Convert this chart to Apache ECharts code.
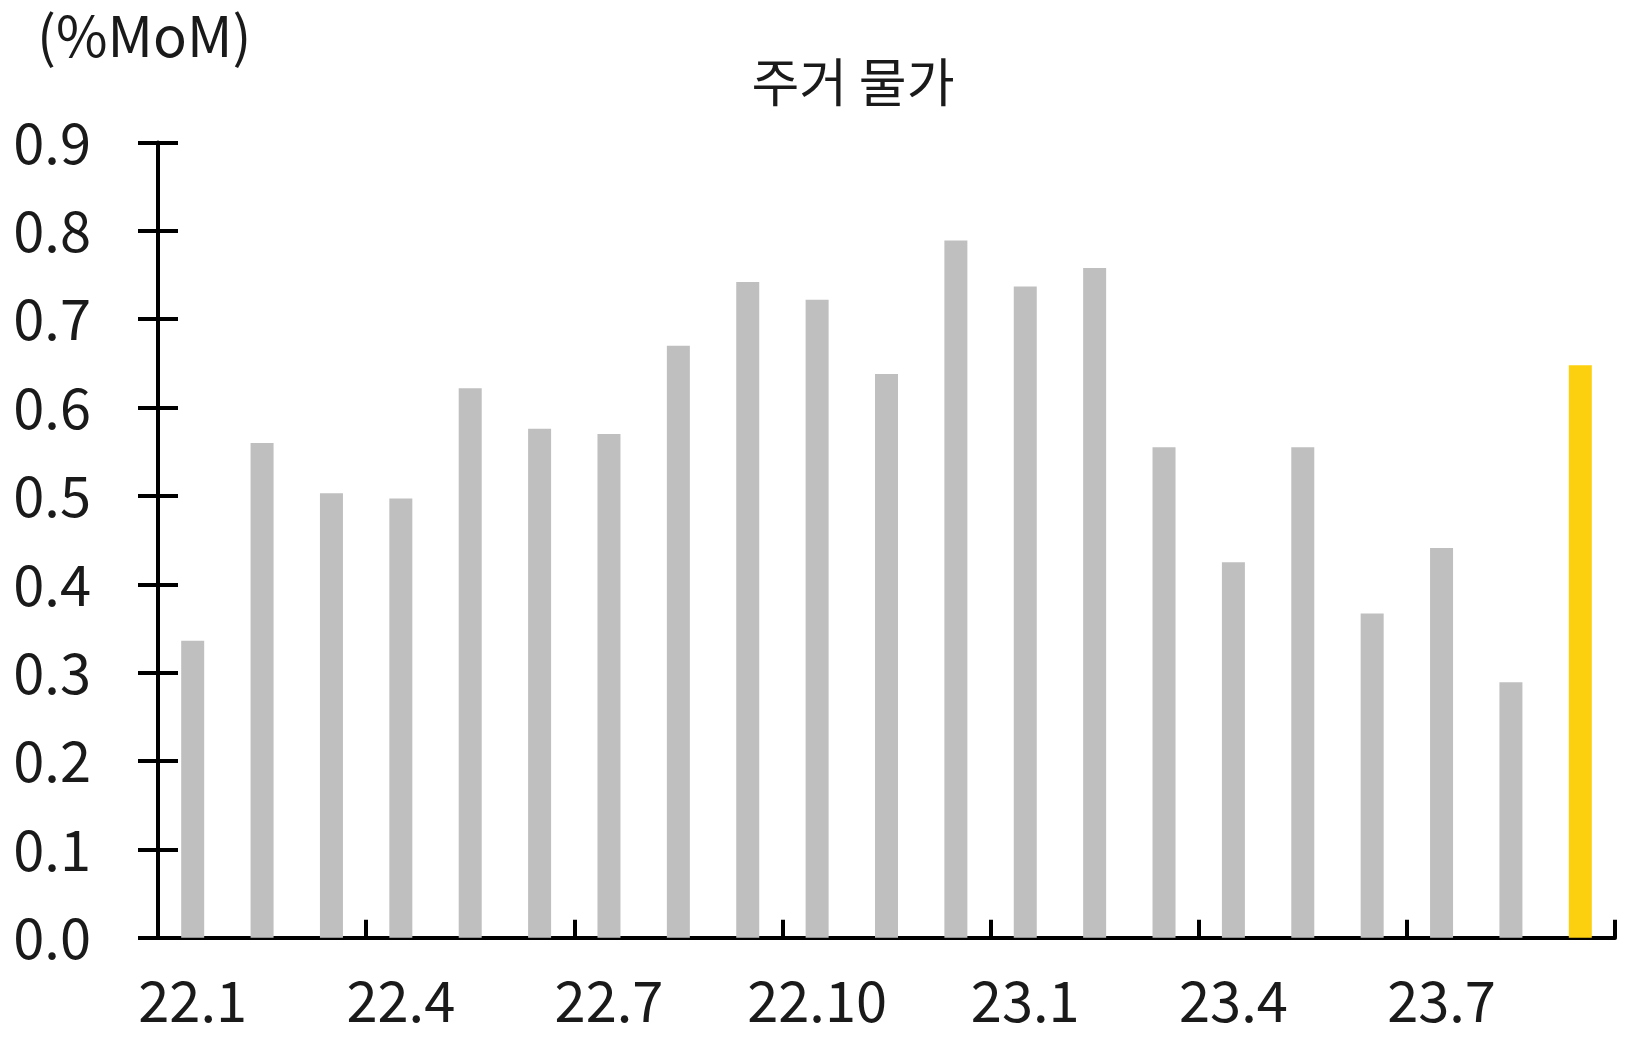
<!DOCTYPE html>
<html>
<head>
<meta charset="utf-8">
<script src="https://cdn.jsdelivr.net/npm/echarts@6/dist/echarts.min.js"></script>
<style>
html,body{margin:0;padding:0;background:#fff;}
#chart{width:1628px;height:1040px;}
</style>
</head>
<body>
<div id="chart"></div>
<script>
const categories = ['22.1','22.2','22.3','22.4','22.5','22.6','22.7','22.8','22.9','22.10','22.11','22.12',
                    '23.1','23.2','23.3','23.4','23.5','23.6','23.7','23.8','23.9'];
const values = [0.336,0.560,0.503,0.497,0.622,0.576,0.570,0.670,0.742,0.722,0.638,0.789,
                0.737,0.758,0.555,0.425,0.555,0.367,0.441,0.289,0.648];
const yTicks = [0,0.1,0.2,0.3,0.4,0.5,0.6,0.7,0.8,0.9];
const titleText = '주거 물가';
const unitText = '(%MoM)';

const GREY = '#BFBFBF';
const YELLOW = '#FDD00F';
const FONT = '"Noto Sans CJK KR", "Noto Sans", sans-serif';
const TXT = '#1a1a1a';

const chart = echarts.init(document.getElementById('chart'));
const lastIdx = values.length - 1;
const option = {
  animation: false,
  backgroundColor: '#fff',
  grid: { left: 158, right: 13, top: 142.5, bottom: 102.3, containLabel: false },
  graphic: [
    { type: 'text', left: 37, top: 8, style: { text: unitText, font: '56px ' + FONT, fill: TXT } },
    { type: 'text', x: 853, y: 82, style: { text: titleText, font: '52px ' + FONT, fill: TXT, textAlign: 'center', textVerticalAlign: 'middle' } }
  ],
  xAxis: {
    type: 'category',
    data: categories,
    boundaryGap: true,
    axisLine: { lineStyle: { color: '#000', width: 4 } },
    axisTick: { show: true, inside: true, length: 18, interval: 2, alignWithLabel: false, lineStyle: { color: '#000', width: 4 } },
    axisLabel: { interval: 2, margin: 35, fontSize: 56, fontFamily: FONT, color: TXT },
    splitLine: { show: false }
  },
  yAxis: [
    {
      type: 'value', min: yTicks[0], max: yTicks[yTicks.length - 1], interval: 0.1,
      axisLine: { show: true, lineStyle: { color: '#000', width: 4 } },
      axisTick: { show: true, inside: false, length: 20, lineStyle: { color: '#000', width: 4 } },
      axisLabel: { margin: 67, fontSize: 56, fontFamily: FONT, color: TXT,
        formatter: v => v.toFixed(1), padding: [0, 0, 18, 0] },
      splitLine: { show: false }
    },
    {
      type: 'value', min: yTicks[0], max: yTicks[yTicks.length - 1], interval: 0.1, position: 'left',
      axisLine: { show: false },
      axisTick: { show: true, inside: true, length: 20, lineStyle: { color: '#000', width: 4 } },
      axisLabel: { show: false },
      splitLine: { show: false }
    }
  ],
  series: [{
    type: 'bar',
    yAxisIndex: 0,
    barWidth: 23,
    itemStyle: { color: GREY },
    data: values.map((v, i) => i === lastIdx ? { value: v, itemStyle: { color: YELLOW } } : v)
  }]
};
chart.setOption(option);
</script>
</body>
</html>
